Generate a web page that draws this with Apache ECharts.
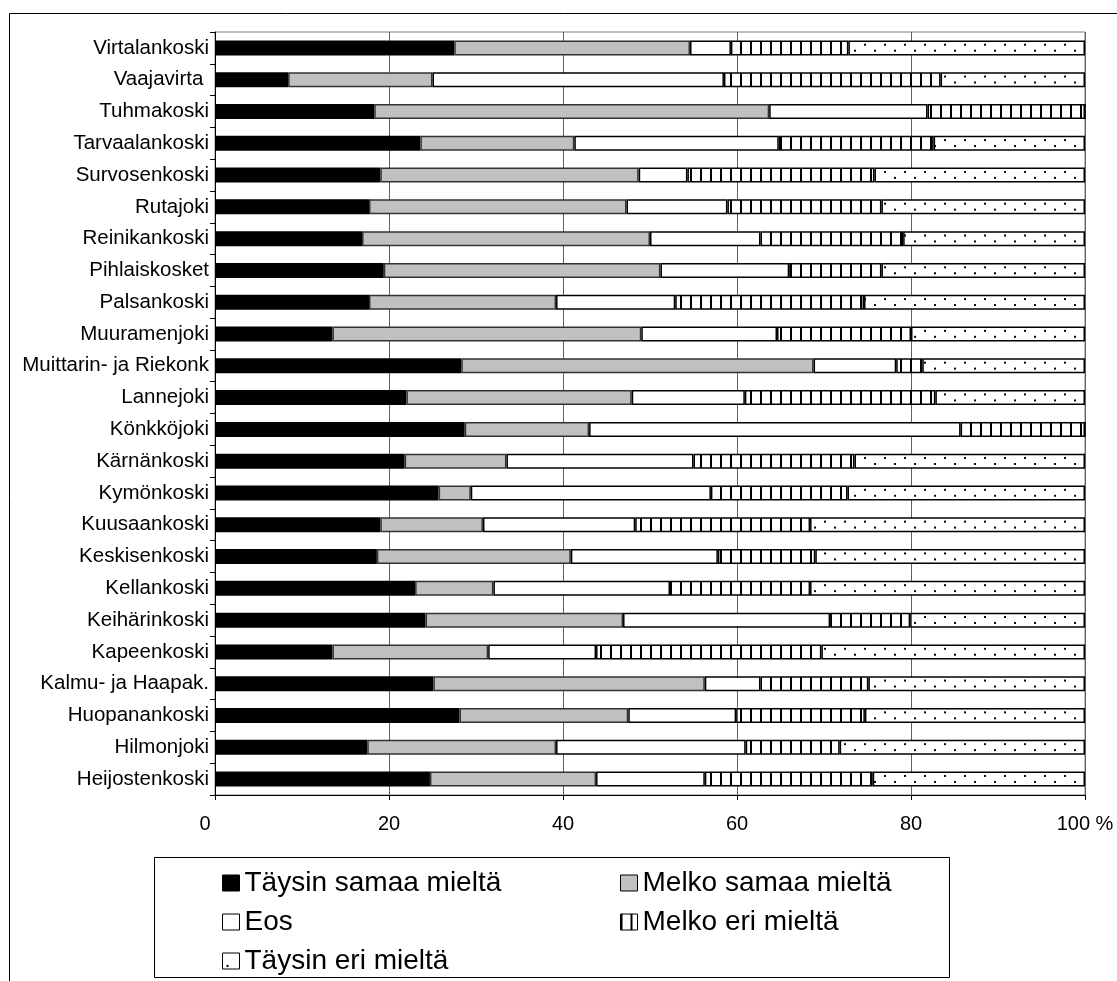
<!DOCTYPE html>
<html>
<head>
<meta charset="utf-8">
<script src="https://cdn.jsdelivr.net/npm/echarts@6/dist/echarts.min.js"></script>
<style>
html,body{margin:0;padding:0;background:#fff;}
#chart{width:1117px;height:981px;}
</style>
</head>
<body>
<div id="chart"></div>
<script>
const categories = ["Virtalankoski","Vaajavirta ","Tuhmakoski","Tarvaalankoski","Survosenkoski","Rutajoki","Reinikankoski","Pihlaiskosket","Palsankoski","Muuramenjoki","Muittarin- ja Riekonk","Lannejoki","Könkköjoki","Kärnänkoski","Kymönkoski","Kuusaankoski","Keskisenkoski","Kellankoski","Keihärinkoski","Kapeenkoski","Kalmu- ja Haapak.","Huopanankoski","Hilmonjoki","Heijostenkoski"];
const seriesNames = ["Täysin samaa mieltä","Melko samaa mieltä","Eos","Melko eri mieltä","Täysin eri mieltä"];
const taysinSamaa = [27.5,8.4,18.3,23.6,19.0,17.7,16.9,19.4,17.7,13.5,28.3,22.0,28.7,21.8,25.7,19.0,18.6,23.0,24.2,13.5,25.1,28.1,17.5,24.7];
const melkoSamaa  = [27.1,16.6,45.4,17.7,29.7,29.6,33.1,31.8,21.5,35.5,40.5,25.9,14.3,11.7,3.7,11.8,22.3,9.0,22.7,17.9,31.2,19.4,21.7,19.1];
const eos         = [4.7,33.5,18.2,23.5,5.6,11.6,12.7,14.8,13.7,15.6,9.5,13.0,42.7,21.5,27.6,17.5,16.9,20.3,23.8,12.4,6.4,12.4,21.8,12.5];
const melkoEri    = [13.5,24.9,18.1,17.8,21.5,17.7,16.4,10.6,21.7,15.4,3.0,21.9,14.3,18.5,15.7,20.1,11.2,16.1,9.2,25.9,12.4,14.8,10.8,19.3];
const taysinEri   = [27.2,16.6,0,17.4,24.2,23.4,20.9,23.4,25.4,20.0,18.7,17.2,0,26.5,27.3,31.6,31.0,31.6,20.1,30.3,24.9,25.3,28.2,24.4];
const xTicks = [0,20,40,60,80,100];

const GRID_TOP = 32, GRID_BOTTOM = 186, H = 981;
const band = (H - GRID_TOP - GRID_BOTTOM) / categories.length;

function stripePattern(){
  const c = document.createElement('canvas');
  c.width = 10; c.height = 16;
  const g = c.getContext('2d');
  g.fillStyle = '#fff'; g.fillRect(0,0,10,16);
  g.fillStyle = '#000'; g.fillRect(0,0,2,16);
  return {image: c, repeat: 'repeat'};
}
function dotPattern(){
  const c = document.createElement('canvas');
  c.width = 20; c.height = 32;
  const g = c.getContext('2d');
  g.fillStyle = '#fff'; g.fillRect(0,0,20,32);
  g.fillStyle = '#000';
  g.fillRect(4,12,2,2);
  g.fillRect(14,18,2,2);
  return {image: c, repeat: 'repeat', scaleX: 1, scaleY: band / 32};
}

const fills = ['#000000','#c0c0c0','#ffffff',stripePattern(),dotPattern()];
const values = [taysinSamaa,melkoSamaa,eos,melkoEri,taysinEri];
const FONT = '"Liberation Sans", Arial, sans-serif';

const legendCommon = {
  orient: 'vertical', top: 864, itemWidth: 17, itemHeight: 16, itemGap: 11,
  icon: 'rect', selectedMode: false,
  itemStyle: {borderWidth: 1, borderColor: '#000'},
  textStyle: {color: '#000', fontSize: 28, fontFamily: FONT}
};

const chart = echarts.init(document.getElementById('chart'), null, {renderer:'canvas'});
chart.setOption({
  animation: false,
  backgroundColor: '#fff',
  grid: {left: 215, right: 32, top: GRID_TOP, bottom: GRID_BOTTOM, show: true, borderColor: '#808080', borderWidth: 1},
  xAxis: {
    type: 'value', min: xTicks[0], max: xTicks[xTicks.length-1], interval: xTicks[1]-xTicks[0],
    axisLine: {show: true, lineStyle: {color: '#000', width: 1}},
    axisTick: {show: true, length: 5, lineStyle: {color: '#000'}},
    splitLine: {show: true, lineStyle: {color: '#606060', width: 1}},
    axisLabel: {
      color: '#000', fontSize: 20, fontFamily: FONT, margin: 19,
      formatter: function(v){ return v === 100 ? '100 %' : (v === 0 ? '{z|0}' : String(v)); },
      rich: {z: {fontSize: 20, fontFamily: FONT, color: '#000', padding: [0, 20, 0, 0]}}
    }
  },
  yAxis: {
    type: 'category', data: categories, inverse: true,
    axisLine: {show: true, lineStyle: {color: '#000', width: 1}},
    axisTick: {show: true, length: 5, lineStyle: {color: '#000'}},
    splitLine: {show: false},
    axisLabel: {color: '#000', fontSize: 20.5, fontFamily: FONT, margin: 6, interval: 0}
  },
  legend: [
    Object.assign({}, legendCommon, {left: 217, data: [seriesNames[0], seriesNames[2], seriesNames[4]]}),
    Object.assign({}, legendCommon, {left: 615, data: [seriesNames[1], seriesNames[3]]})
  ],
  graphic: [
    {type: 'rect', silent: true, shape: {x: 9.5, y: 13.5, width: 1200, height: 1100},
     style: {fill: 'none', stroke: '#000', lineWidth: 1}},
    {type: 'rect', silent: true, shape: {x: 154.5, y: 857.5, width: 795, height: 120},
     style: {fill: 'none', stroke: '#000', lineWidth: 1}}
  ],
  series: seriesNames.map(function(name, i){
    return {
      name: name, type: 'bar', stack: 'total', barWidth: 15,
      data: values[i],
      itemStyle: {color: fills[i], borderColor: i === 1 ? '#333' : '#000', borderWidth: 1.5},
      emphasis: {disabled: true}
    };
  })
});
</script>
</body>
</html>
